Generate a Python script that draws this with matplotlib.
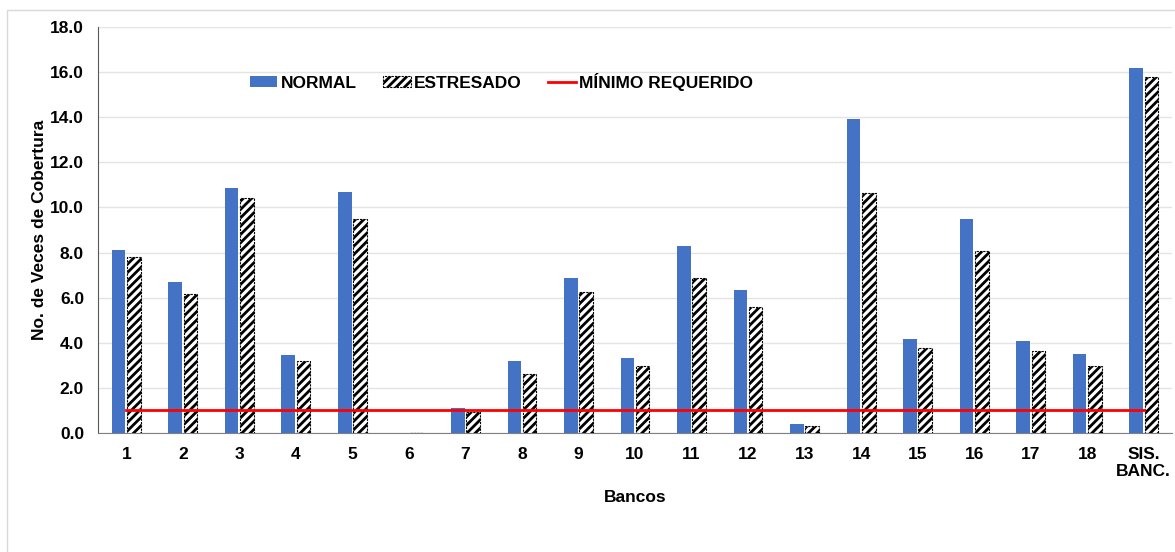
#!/usr/bin/env python3

import numpy as np

import matplotlib
matplotlib.use('Agg')
import matplotlib.pyplot as plt
from matplotlib.patches import Rectangle

bancos = ['1', '2', '3', '4', '5', '6', '7', '8', '9', '10', '11', '12',
          '13', '14', '15', '16', '17', '18', 'SIS.\nBANC.']
normal = [8.1, 6.7, 10.85, 3.45, 10.7, 0.0, 1.13, 3.2, 6.88, 3.33, 8.28,
          6.33, 0.42, 13.94, 4.17, 9.5, 4.08, 3.52, 16.2]
estresado = [7.8, 6.18, 10.4, 3.18, 9.5, 0.0, 0.95, 2.6, 6.24, 2.97, 6.88,
             5.58, 0.3, 10.62, 3.76, 8.06, 3.63, 2.95, 15.8]
minimo = [1.0] * len(bancos)

plt.rcParams['font.family'] = ['Liberation Sans', 'DejaVu Sans']
plt.rcParams['hatch.linewidth'] = 2.0

fig = plt.figure(figsize=(11.75, 5.52), dpi=100)
fig.patches.append(Rectangle((7 / 1175, -0.02), 1.1, 1 - 10 / 552 + 0.02,
                             transform=fig.transFigure, fill=False,
                             edgecolor='#d9d9d9', linewidth=1.0))

ax = fig.add_axes([98 / 1175, 1 - 433 / 552, 1074 / 1175, 406 / 552])

x = np.arange(len(bancos))
w = 0.24

b1 = ax.bar(x - 0.135, normal, width=w, color='#4472C4', label='NORMAL', zorder=3)
b2 = ax.bar(x + 0.135, estresado, width=w, color='white', edgecolor='black',
            hatch='////', linewidth=0.8, linestyle=(0, (2, 1)),
            label='ESTRESADO', zorder=3)
l1, = ax.plot(x, minimo, color='#FF0000', linewidth=2.0,
              label='MÍNIMO REQUERIDO', zorder=4)

ax.set_xlim(-0.5, len(bancos) - 0.5)
ax.set_ylim(0, 18)
ax.set_yticks(np.arange(0, 18.1, 2.0))
ax.set_yticklabels(['%.1f' % v for v in np.arange(0, 18.1, 2.0)],
                   fontsize=12.5, fontweight='bold')
ax.set_xticks(x)
ax.set_xticklabels(bancos, fontsize=12.5, fontweight='bold', linespacing=1.15)
ax.tick_params(axis='both', length=0)
ax.tick_params(axis='x', pad=10)
ax.tick_params(axis='y', pad=10)

ax.grid(axis='y', color='#e4e4e4', linewidth=1.0, zorder=0)
ax.set_axisbelow(True)
for s in ['top', 'right']:
    ax.spines[s].set_visible(False)
ax.spines['left'].set_color('#595959')
ax.spines['bottom'].set_color('#808080')

ax.set_xlabel('Bancos', fontsize=12.5, fontweight='bold', labelpad=8)
ax.set_ylabel('No. de Veces de Cobertura', fontsize=12.5, fontweight='bold',
              labelpad=2)

ax.legend(handles=[b1, b2, l1], loc='center left',
          bbox_to_anchor=(136 / 1074, (433 - 82) / 406),
          ncol=3, frameon=False, prop={'weight': 'bold', 'size': 12.5},
          handlelength=1.6, handleheight=0.6, handletextpad=0.2,
          columnspacing=1.5)

fig.savefig('out.png', dpi=100)
